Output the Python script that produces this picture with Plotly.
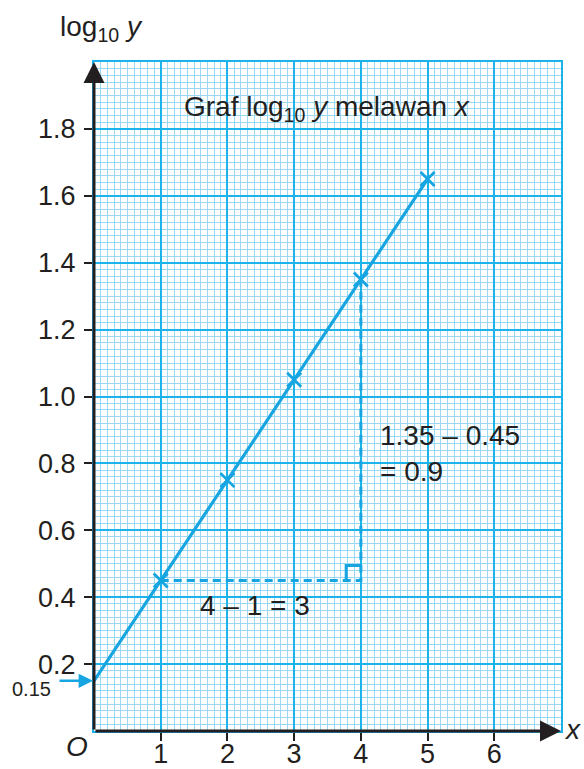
import plotly.graph_objects as go

# Data: log10(y) against x
x_vals = [1, 2, 3, 4, 5]
log_y = [0.45, 0.75, 1.05, 1.35, 1.65]
intercept = 0.15

# Axis ticks
x_ticks = [1, 2, 3, 4, 5, 6]
x_ticktext = ["1", "2", "3", "4", "5", "6"]
y_ticks = [0.2, 0.4, 0.6, 0.8, 1.0, 1.2, 1.4, 1.6, 1.8]
y_ticktext = ["0.2", "0.4", "0.6", "0.8", "1.0", "1.2", "1.4", "1.6", "1.8"]
x_max, y_max = 7.0, 2.0

# Gradient triangle read between the points at x = 1 and x = 4
run_from, run_to = 1, 4
rise_from, rise_to = 0.45, 1.35
corner_w, corner_h = 0.22, 0.045

INK = "#231f20"
BLUE = "#16a5e1"
MAJOR = "#1cb3ea"
MINOR = "#9ad8f4"
FONT = "Liberation Sans"

fig = go.Figure()

# best-fit line starting at the intercept on the log10 y axis
fig.add_trace(go.Scatter(
    x=[0] + x_vals, y=[intercept] + log_y, mode="lines",
    line=dict(color=BLUE, width=3.2), hoverinfo="skip", showlegend=False))

# plotted points
fig.add_trace(go.Scatter(
    x=x_vals, y=log_y, mode="markers",
    marker=dict(symbol="x-thin", size=14, line=dict(color=BLUE, width=2.8)),
    showlegend=False))

# dashed run and rise
fig.add_trace(go.Scatter(
    x=[run_from, run_to, run_to], y=[rise_from, rise_from, rise_to], mode="lines",
    line=dict(color=BLUE, width=3, dash="8px,5px"), hoverinfo="skip", showlegend=False))

# right-angle marker at the corner
fig.add_trace(go.Scatter(
    x=[run_to - corner_w, run_to - corner_w, run_to],
    y=[rise_from, rise_from + corner_h, rise_from + corner_h], mode="lines",
    line=dict(color=BLUE, width=3), hoverinfo="skip", showlegend=False))

axis_common = dict(
    showline=True, linecolor=MAJOR, linewidth=2, mirror=True,
    showgrid=True, gridcolor=MAJOR, gridwidth=1.6,
    ticks="outside", ticklen=8, tickwidth=2, tickcolor=INK,
    tickfont=dict(family=FONT, size=27, color=INK),
    zeroline=False, fixedrange=True, automargin=False,
)

fig.update_layout(
    width=584, height=769,
    margin=dict(l=94, r=23, t=62, b=38),
    paper_bgcolor="white", plot_bgcolor="white",
    xaxis=dict(range=[0, x_max], tickmode="array", tickvals=x_ticks, ticktext=x_ticktext,
               minor=dict(tickmode="linear", tick0=0, dtick=0.1, showgrid=True,
                          gridcolor=MINOR, gridwidth=1, ticks=""),
               ticklabelstandoff=-10, **axis_common),
    yaxis=dict(range=[0, y_max], tickmode="array", tickvals=y_ticks, ticktext=y_ticktext,
               minor=dict(tickmode="linear", tick0=0, dtick=0.02, showgrid=True,
                          gridcolor=MINOR, gridwidth=1, ticks=""),
               ticklabelstandoff=3, **axis_common),
)

# black axes with arrowheads
for tip_x, tip_y in [(0, y_max), (x_max, 0)]:
    fig.add_annotation(x=tip_x, y=tip_y, ax=0, ay=0, xref="x", yref="y",
                       axref="x", ayref="y", text="", showarrow=True,
                       arrowhead=2, arrowsize=1.4, arrowwidth=3, arrowcolor=INK)

# arrow marking the intercept
fig.add_annotation(x=0, y=intercept, ax=-36, ay=0, xref="x", yref="y",
                   text="", showarrow=True, arrowhead=2, arrowsize=1.15,
                   arrowwidth=2.5, arrowcolor=BLUE, standoff=1)
fig.add_annotation(x=0, y=intercept, xref="x", yref="y", xshift=-63, yshift=-8,
                   text=f"{intercept}", showarrow=False,
                   font=dict(family=FONT, size=20, color=INK))

text_font = dict(family=FONT, size=28, color=INK)

fig.add_annotation(x=0, y=1, xref="paper", yref="paper", xshift=-36, yshift=34,
                   xanchor="left", yanchor="middle",
                   text="log<sub>10</sub> <i>y</i>", showarrow=False, font=text_font)
fig.add_annotation(x=1.32, y=1.862, xref="x", yref="y", xanchor="left",
                   text="Graf log<sub>10</sub> <i>y</i> melawan <i>x</i>",
                   showarrow=False, font=text_font)
fig.add_annotation(x=4.26, y=0.882, xref="x", yref="y", xanchor="left",
                   text=f"{rise_to} \u2013 {rise_from}", showarrow=False, font=text_font)
fig.add_annotation(x=4.26, y=0.777, xref="x", yref="y", xanchor="left",
                   text=f"= {round(rise_to - rise_from, 2)}", showarrow=False, font=text_font)
fig.add_annotation(x=2.41, y=0.374, xref="x", yref="y",
                   text=f"{run_to} \u2013 {run_from} = {run_to - run_from}",
                   showarrow=False, font=text_font)
fig.add_annotation(x=0, y=0, xref="x", yref="y", xshift=-17, yshift=-15,
                   text="<i>O</i>", showarrow=False, font=dict(family=FONT, size=28, color=INK))
fig.add_annotation(x=1, y=0, xref="paper", yref="y", xshift=22, yshift=2,
                   text="<i>x</i>", showarrow=False, font=dict(family=FONT, size=28, color=INK))

fig.write_html("out.html")
